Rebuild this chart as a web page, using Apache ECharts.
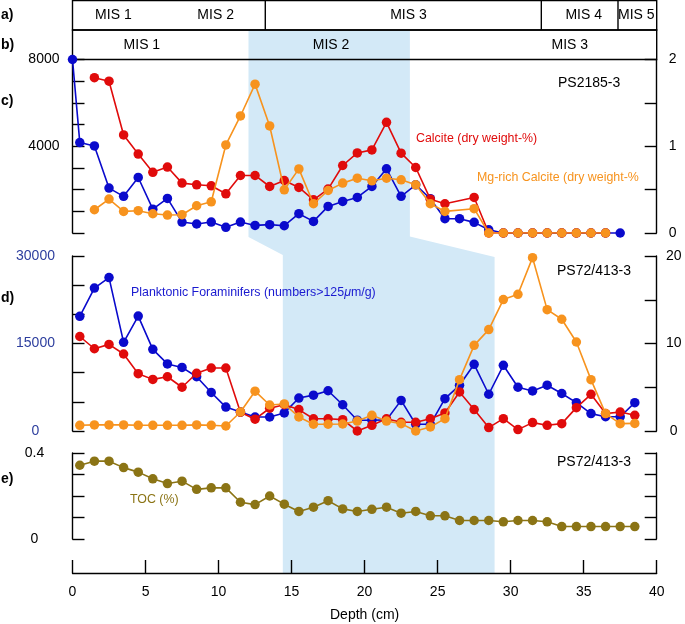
<!DOCTYPE html>
<html><head><meta charset="utf-8">
<script src="https://cdn.jsdelivr.net/npm/echarts@6/dist/echarts.min.js"></script>
<style>html,body{margin:0;padding:0;background:#fff}#c{width:685px;height:624px}</style>
</head><body><div id="c"></div>
<script>
// ---------------- DATA ----------------
// MIS boxes (depth in cm)
const MIS_A_DIVIDERS = [13.2, 32.1, 37.35];
const MIS_A_LABELS = ['MIS 1', 'MIS 2', 'MIS 3', 'MIS 4', 'MIS 5'];
const MIS_A_LABEL_DEPTH = [2.8, 9.8, 23.0, 35.0, 38.6];
const MIS_B_LABELS = ['MIS 1', 'MIS 2', 'MIS 3'];
const MIS_B_LABEL_DEPTH = [4.75, 17.7, 34.05];
const MIS2_UPPER = [12.05, 23.1];   // shaded MIS 2, PS2185-3
const MIS2_LOWER = [14.4, 28.9];    // shaded MIS 2, PS72/413-3

// Panel c: PS2185-3
const DEPTH_C_FORAM = [0,0.5,1.5,2.5,3.5,4.5,5.5,6.5,7.5,8.5,9.5,10.5,11.5,12.5,13.5,14.5,15.5,16.5,17.5,18.5,19.5,20.5,21.5,22.5,23.5,24.5,25.5,26.5,27.5,28.5,29.5,30.5,31.5,32.5,33.5,34.5,35.5,36.5,37.5];
const FORAM_C = [8000,4170,4015,2070,1690,2560,1100,1595,505,415,505,260,505,350,385,335,890,535,1225,1455,1640,2145,2960,1690,2220,1580,660,660,490,150,0,0,0,0,0,0,0,0,0];
const DEPTH_C_CALC = [1.5,2.5,3.5,4.5,5.5,6.5,7.5,8.5,9.5,10.5,11.5,12.5,13.5,14.5,15.5,16.5,17.5,18.5,19.5,20.5,21.5,22.5,23.5,24.5,25.5,27.5,28.5,29.5,30.5,31.5,32.5,33.5,34.5,35.5,36.5];
const CALCITE_C = [1.79,1.75,1.13,0.91,0.70,0.76,0.575,0.556,0.544,0.452,0.663,0.663,0.536,0.605,0.525,0.383,0.506,0.778,0.923,0.958,1.276,0.92,0.755,0.39,0.337,0.41,0,0,0,0,0,0,0,0,0];
const MGCALC_C = [0.268,0.391,0.249,0.257,0.222,0.207,0.211,0.314,0.36,1.015,1.349,1.716,1.234,0.498,0.739,0.337,0.49,0.575,0.632,0.602,0.632,0.613,0.556,0.337,0.249,0.28,0,0,0,0,0,0,0,0,0];

// Panel d / e: PS72/413-3
const DEPTH_D = [0.5,1.5,2.5,3.5,4.5,5.5,6.5,7.5,8.5,9.5,10.5,11.5,12.5,13.5,14.5,15.5,16.5,17.5,18.5,19.5,20.5,21.5,22.5,23.5,24.5,25.5,26.5,27.5,28.5,29.5,30.5,31.5,32.5,33.5,34.5,35.5,36.5,37.5,38.5];
const FORAM_D = [19660,24500,26300,15200,19700,14000,11500,10900,9300,6600,4100,3250,2400,2400,3100,5650,6150,6900,4500,1850,1850,1900,5250,1150,1150,5550,7830,11430,6300,11260,7500,6860,7850,6430,4860,2980,2450,2450,4860];
const CALCITE_D = [10.8,9.4,9.9,8.8,6.55,5.9,6.2,5.0,6.6,7.2,7.2,2.15,1.35,2.6,3.0,2.45,1.4,1.4,1.3,0.0,0.65,1.4,1.0,1.0,1.4,2.06,4.46,2.45,0.39,1.41,0.16,0.96,0.65,0.84,2.67,4.19,1.99,2.17,1.79];
const MGCALC_D = [0.65,0.7,0.7,0.7,0.65,0.65,0.65,0.65,0.7,0.65,0.57,2.17,4.55,2.97,3.09,1.6,0.77,0.77,0.8,1.14,1.79,1.14,0.84,0.0,0.46,1.41,5.87,9.79,11.59,15.02,15.62,19.81,13.87,12.77,10.17,5.87,1.99,0.84,0.87];
const TOC_E = [0.343,0.362,0.362,0.332,0.311,0.280,0.258,0.269,0.231,0.238,0.238,0.171,0.160,0.200,0.162,0.128,0.148,0.178,0.140,0.128,0.138,0.148,0.120,0.128,0.108,0.108,0.086,0.086,0.086,0.080,0.086,0.086,0.080,0.058,0.058,0.058,0.058,0.058,0.058];

// Tick labels
const X_TICK_STEP = 5;
const C_LEFT_LABELS = [4000, 8000];
const C_RIGHT_LABELS = [0, 1, 2];
const D_LEFT_LABELS = [0, 15000, 30000];
const D_RIGHT_LABELS = [0, 10, 20];
const E_LEFT_LABELS = [0, 0.4];

// ---------------- STYLE / LAYOUT ----------------
const FONT = '"Liberation Sans", Arial, Helvetica, sans-serif';
const BLUE = '#0a0acc', RED = '#e00b0b', ORANGE = '#f7931e', OLIVE = '#8b7415';
const SHADE = '#d3e9f7', AXISBLUE = '#2d3e9e';
const GL = 72.5, GR = 685 - 656.7;
const Y_ROW_TOP = 30, Y_C_BOT = 236.5, Y_D_TOP = 256, Y_AXIS = 573;

function pick(list) { return v => list.some(t => Math.abs(t - v) < 1e-9) ? String(v) : ''; }
const axisLineStyle = { color: '#000', width: 1.4 };

function yAx(gi, min, max, interval, pos, labels, extra) {
  return Object.assign({
    type: 'value', gridIndex: gi, min, max, interval, position: pos,
    axisLine: { show: true, lineStyle: axisLineStyle },
    axisTick: { show: true, inside: true, length: 12, lineStyle: axisLineStyle },
    axisLabel: { show: !!labels, formatter: labels ? pick(labels) : '', fontSize: 14, color: '#000', fontFamily: FONT, showMinLabel: true, showMaxLabel: true },
    splitLine: { show: false }
  }, extra || {});
}
function xHidden(gi) { return { type: 'value', gridIndex: gi, min: 0, max: 40, show: false }; }
function pts(xs, ys) { return xs.map((x, i) => [x, ys[i]]); }
function lineSeries(name, xi, yi, data, color, z) {
  return { name, type: 'line', xAxisIndex: xi, yAxisIndex: yi, data, symbol: 'circle', symbolSize: 9.5,
    showSymbol: true, lineStyle: { color, width: 1.6 }, itemStyle: { color }, z: z || 2, animation: false, silent: true };
}

const option = {
  backgroundColor: '#fff',
  animation: false,
  grid: [
    { left: GL, right: GR, top: 0.5, height: 59 },      // 0 MIS rows
    { left: GL, right: GR, top: 59.5, height: 173.5 },  // 1 panel c
    { left: GL, right: GR, top: 256, height: 175 },     // 2 panel d
    { left: GL, right: GR, top: 453, height: 86 },      // 3 panel e
    { left: GL, right: GR, top: 560, height: 13 }       // 4 depth axis
  ],
  xAxis: [xHidden(0), xHidden(1), xHidden(2), xHidden(3), {
    type: 'value', gridIndex: 4, min: 0, max: 40, interval: X_TICK_STEP, position: 'bottom',
    axisLine: { show: true, lineStyle: axisLineStyle },
    axisTick: { show: true, inside: true, length: 13, lineStyle: axisLineStyle },
    axisLabel: { fontSize: 14, color: '#000', fontFamily: FONT, margin: 12 },
    splitLine: { show: false },
    name: 'Depth (cm)', nameLocation: 'middle', nameGap: 35,
    nameTextStyle: { fontSize: 14, color: '#000', fontFamily: FONT }
  }],
  yAxis: [
    { type: 'value', gridIndex: 0, min: 0, max: 2, show: false },
    yAx(1, 0, 8000, 1000, 'left', C_LEFT_LABELS, {}),
    yAx(1, 0, 2, 0.5, 'right', C_RIGHT_LABELS, {}),
    yAx(2, 0, 30000, 5000, 'left', D_LEFT_LABELS, {}),
    yAx(2, 0, 20, 5, 'right', D_RIGHT_LABELS, {}),
    yAx(3, 0, 0.4, 0.1, 'left', E_LEFT_LABELS, {}),
    yAx(3, 0, 0.4, 0.1, 'right', null, {}),
    { type: 'value', gridIndex: 4, min: 0, max: 1, show: false }
  ],
  series: [
    // MIS 2 shading spanning panels
    { type: 'custom', xAxisIndex: 1, yAxisIndex: 1, data: [[0, 0]], z: -1, clip: false, silent: true,
      renderItem: (p, api) => {
        const xu0 = api.coord([MIS2_UPPER[0], 0])[0], xu1 = api.coord([MIS2_UPPER[1], 0])[0];
        const xl0 = api.coord([MIS2_LOWER[0], 0])[0], xl1 = api.coord([MIS2_LOWER[1], 0])[0];
        return { type: 'polygon', shape: { points: [[xu0, Y_ROW_TOP], [xu1, Y_ROW_TOP], [xu1, Y_C_BOT], [xl1, Y_D_TOP + 1], [xl1, Y_AXIS], [xl0, Y_AXIS], [xl0, Y_D_TOP - 1], [xu0, Y_C_BOT + 0.5]] },
          style: { fill: SHADE }, z2: -1 };
      } },
    // MIS boxes
    { type: 'custom', xAxisIndex: 0, yAxisIndex: 0, data: [[0, 40, 0], [0, 40, 1]], clip: false, silent: true, z: 3,
      renderItem: (p, api) => {
        const a = api.coord([api.value(0), api.value(2) + 1]), b = api.coord([api.value(1), api.value(2)]);
        return { type: 'rect', shape: { x: a[0], y: a[1], width: b[0] - a[0], height: b[1] - a[1] },
          style: { fill: 'none', stroke: '#000', lineWidth: 1.4 } };
      } },
    { type: 'custom', xAxisIndex: 0, yAxisIndex: 0, data: MIS_A_DIVIDERS.map(d => [d]), clip: false, silent: true, z: 3,
      renderItem: (p, api) => {
        const a = api.coord([api.value(0), 2]), b = api.coord([api.value(0), 1]);
        return { type: 'line', shape: { x1: a[0], y1: a[1], x2: b[0], y2: b[1] }, style: { stroke: '#000', lineWidth: 1.4 } };
      } },
    { type: 'custom', xAxisIndex: 0, yAxisIndex: 0, data: MIS_A_LABEL_DEPTH.map(d => [d, 1.5]), clip: false, silent: true, z: 4,
      renderItem: (p, api) => {
        const c = api.coord([api.value(0), api.value(1)]);
        return { type: 'text', x: c[0], y: c[1], style: { text: MIS_A_LABELS[p.dataIndex], fontSize: 14, fontFamily: FONT, fill: '#000', align: 'center', verticalAlign: 'middle' } };
      } },
    { type: 'custom', xAxisIndex: 0, yAxisIndex: 0, data: MIS_B_LABEL_DEPTH.map(d => [d, 0.5]), clip: false, silent: true, z: 4,
      renderItem: (p, api) => {
        const c = api.coord([api.value(0), api.value(1)]);
        return { type: 'text', x: c[0], y: c[1], style: { text: MIS_B_LABELS[p.dataIndex], fontSize: 14, fontFamily: FONT, fill: '#000', align: 'center', verticalAlign: 'middle' } };
      } },
    // Panel c
    Object.assign(lineSeries('Foraminifers c', 1, 1, pts(DEPTH_C_FORAM, FORAM_C), BLUE, 5), { clip: false }),
    lineSeries('Calcite c', 1, 2, pts(DEPTH_C_CALC, CALCITE_C), RED, 6),
    lineSeries('Mg-Calcite c', 1, 2, pts(DEPTH_C_CALC, MGCALC_C), ORANGE, 7),
    // Panel d
    lineSeries('Foraminifers d', 2, 3, pts(DEPTH_D, FORAM_D), BLUE, 5),
    lineSeries('Calcite d', 2, 4, pts(DEPTH_D, CALCITE_D), RED, 6),
    lineSeries('Mg-Calcite d', 2, 4, pts(DEPTH_D, MGCALC_D), ORANGE, 7),
    // Panel e
    lineSeries('TOC', 3, 5, pts(DEPTH_D, TOC_E), OLIVE, 5)
  ],
  graphic: [
    { type: 'text', x: 1, y: 15, style: { text: 'a)', font: 'bold 14px ' + FONT, fill: '#000', verticalAlign: 'middle' } },
    { type: 'text', x: 1, y: 45, style: { text: 'b)', font: 'bold 14px ' + FONT, fill: '#000', verticalAlign: 'middle' } },
    { type: 'text', x: 1, y: 101, style: { text: 'c)', font: 'bold 14px ' + FONT, fill: '#000', verticalAlign: 'middle' } },
    { type: 'text', x: 1, y: 298, style: { text: 'd)', font: 'bold 14px ' + FONT, fill: '#000', verticalAlign: 'middle' } },
    { type: 'text', x: 1, y: 479, style: { text: 'e)', font: 'bold 14px ' + FONT, fill: '#000', verticalAlign: 'middle' } },
    { type: 'text', x: 558, y: 83, style: { text: 'PS2185-3', font: '14px ' + FONT, fill: '#000', verticalAlign: 'middle' } },
    { type: 'text', x: 416, y: 139, style: { text: 'Calcite (dry weight-%)', font: '12.4px ' + FONT, fill: RED, verticalAlign: 'middle' } },
    { type: 'text', x: 477, y: 178, style: { text: 'Mg-rich Calcite (dry weight-%', font: '12.4px ' + FONT, fill: ORANGE, verticalAlign: 'middle' } },
    { type: 'text', x: 557, y: 271, style: { text: 'PS72/413-3', font: '14px ' + FONT, fill: '#000', verticalAlign: 'middle' } },
    { type: 'text', x: 131, y: 293, style: {
      text: '{a|Planktonic Foraminifers (numbers>125}{b|μ}{a|m/g)}', verticalAlign: 'middle',
      rich: { a: { fontSize: 12.4, fontFamily: FONT, fill: '#1a1ad0', color: '#1a1ad0' }, b: { fontSize: 12.4, fontFamily: FONT, fontStyle: 'italic', fill: '#1a1ad0', color: '#1a1ad0' } } } },
    { type: 'text', x: 557, y: 462, style: { text: 'PS72/413-3', font: '14px ' + FONT, fill: '#000', verticalAlign: 'middle' } },
    { type: 'text', x: 130, y: 500, style: { text: 'TOC (%)', font: '12.4px ' + FONT, fill: OLIVE, verticalAlign: 'middle' } }
  ]
};

// axis-label alignment tweaks
option.yAxis[1].axisLabel.margin = 13;
option.yAxis[2].axisLabel.align = 'center'; option.yAxis[2].axisLabel.margin = 16;
option.yAxis[3].axisLabel.align = 'center'; option.yAxis[3].axisLabel.margin = 37; option.yAxis[3].axisLabel.color = AXISBLUE;
option.yAxis[4].axisLabel.align = 'center'; option.yAxis[4].axisLabel.margin = 17;
option.yAxis[5].axisLabel.align = 'center'; option.yAxis[5].axisLabel.margin = 38;

const chart = echarts.init(document.getElementById('c'), null, { renderer: 'canvas' });
chart.setOption(option);
</script>
</body></html>
